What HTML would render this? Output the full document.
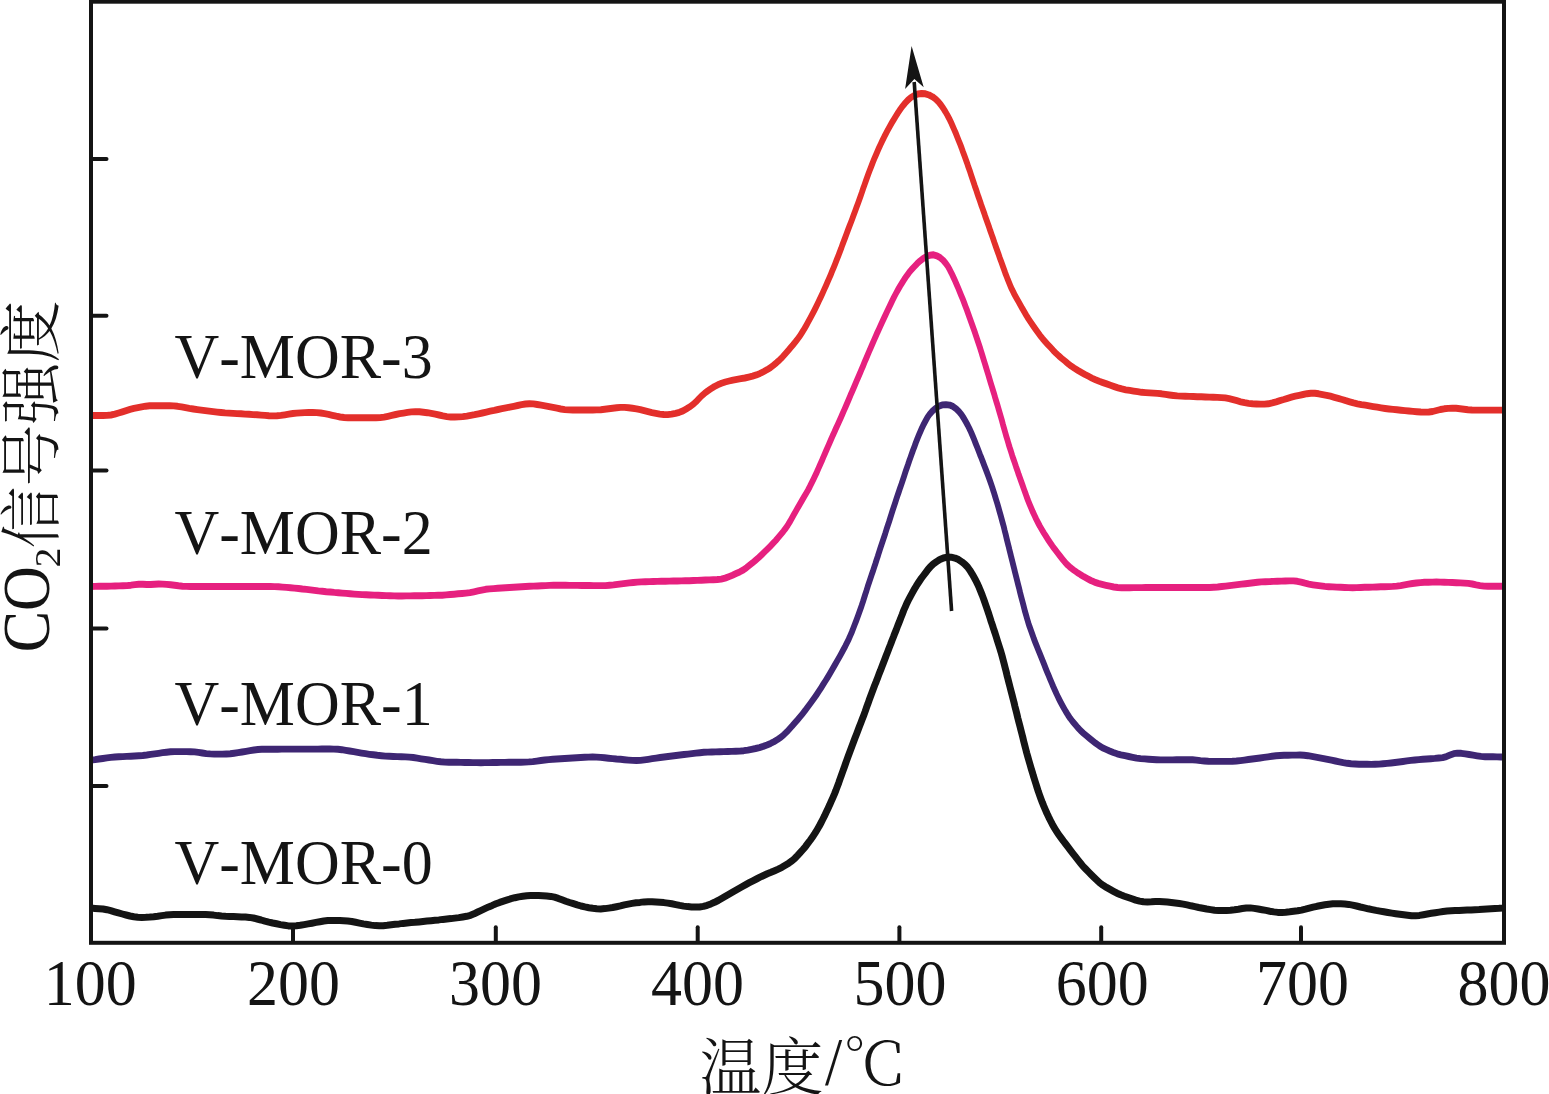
<!DOCTYPE html>
<html lang="zh"><head><meta charset="utf-8"><title>CO2-TPD</title>
<style>
html,body{margin:0;padding:0;background:#fff;}
body{width:1549px;height:1094px;overflow:hidden;position:relative;}
svg{position:absolute;left:0;top:0;display:block;}
text{font-kerning:none;font-family:"Liberation Serif","Noto Serif CJK SC",serif;fill:#141414;}
.cj{font-weight:300;font-family:"Noto Serif CJK SC","Liberation Serif",serif;}
</style></head><body>
<svg width="1549" height="1094" viewBox="0 0 1549 1094">
<rect width="1549" height="1094" fill="#fff"/>

<g fill="none" stroke-linejoin="round" stroke-linecap="butt">
<g transform="scale(0.84 1)" stroke-width="6.9">
<path d="M108.3 415.5L113.1 415.5L117.9 415.5L122.6 415.5L127.4 415.4L132.1 415.0L136.7 414.2L141.2 413.0L145.7 411.8L150.3 410.6L154.8 409.4L159.4 408.4L164.1 407.6L168.7 406.8L173.4 406.2L178.2 405.8L182.9 405.7L187.7 405.7L192.4 405.7L197.2 405.7L201.9 405.7L206.7 405.9L211.4 406.3L216.1 406.9L220.8 407.7L225.4 408.4L230.1 409.0L234.9 409.6L239.6 410.1L244.3 410.6L249.0 411.1L253.8 411.6L258.5 412.1L263.2 412.5L268.0 412.9L272.7 413.1L277.5 413.4L282.2 413.6L287.0 413.8L291.7 414.1L296.5 414.3L301.2 414.6L306.0 414.8L310.7 415.1L315.5 415.4L320.2 415.7L325.0 415.9L329.7 415.8L334.4 415.4L339.1 414.8L343.8 414.1L348.5 413.5L353.2 413.1L358.0 412.9L362.7 412.6L367.5 412.5L372.2 412.4L377.0 412.6L381.7 413.0L386.4 413.7L391.1 414.4L395.7 415.3L400.3 416.2L405.0 417.0L409.7 417.5L414.4 417.8L419.2 417.8L423.9 417.8L428.7 417.8L433.4 417.8L438.2 417.8L443.0 417.8L447.7 417.8L452.5 417.6L457.2 417.1L461.8 416.3L466.4 415.4L471.1 414.5L475.8 413.7L480.4 413.1L485.1 412.4L489.8 411.9L494.6 411.6L499.3 411.7L504.0 412.2L508.7 412.7L513.4 413.4L518.1 414.2L522.7 415.0L527.3 415.9L532.0 416.6L536.7 417.0L541.4 417.0L546.2 416.9L550.9 416.6L555.7 416.1L560.4 415.4L565.0 414.7L569.7 413.8L574.3 413.0L579.0 412.1L583.6 411.2L588.3 410.4L592.9 409.5L597.6 408.7L602.3 407.9L606.9 407.1L611.6 406.3L616.2 405.5L620.9 404.7L625.6 404.0L630.3 403.7L635.0 403.9L639.6 404.5L644.3 405.1L649.0 405.8L653.7 406.6L658.4 407.4L663.0 408.2L667.7 409.0L672.4 409.6L677.1 409.9L681.9 410.0L686.6 410.0L691.4 410.0L696.1 410.0L700.9 410.0L705.7 410.0L710.4 409.9L715.2 409.7L719.9 409.3L724.6 408.8L729.3 408.3L734.1 407.8L738.8 407.4L743.5 407.4L748.3 407.7L753.0 408.2L757.7 408.8L762.3 409.6L766.9 410.7L771.5 411.7L776.1 412.7L780.8 413.4L785.5 414.1L790.2 414.5L794.9 414.6L799.5 414.1L804.2 413.3L808.8 412.3L813.1 410.9L817.2 408.9L821.2 406.8L825.0 404.4L828.5 401.8L831.8 398.9L835.1 396.0L838.6 393.4L842.4 391.0L846.3 388.7L850.3 386.6L854.5 384.8L858.9 383.3L863.4 382.0L868.0 381.0L872.6 380.1L877.3 379.4L882.0 378.7L886.7 378.0L891.3 377.1L895.9 376.1L900.4 374.9L904.8 373.4L909.1 371.6L913.2 369.7L917.2 367.6L921.0 365.1L924.6 362.6L928.1 359.9L931.5 357.1L934.7 354.1L937.8 351.1L940.8 348.0L943.9 345.0L946.9 341.9L949.8 338.7L952.6 335.5L955.1 332.1L957.6 328.7L960.0 325.2L962.3 321.7L964.6 318.2L966.8 314.7L969.0 311.1L971.1 307.6L973.2 304.0L975.2 300.4L977.3 296.7L979.3 293.1L981.2 289.5L983.2 285.8L985.1 282.2L987.0 278.5L988.9 274.8L990.7 271.1L992.5 267.4L994.3 263.7L996.0 260.0L997.8 256.3L999.5 252.5L1001.2 248.8L1002.8 245.0L1004.5 241.3L1006.2 237.5L1007.8 233.8L1009.5 230.0L1011.2 226.3L1012.9 222.6L1014.6 218.8L1016.2 215.1L1017.9 211.3L1019.5 207.6L1021.2 203.8L1022.8 200.1L1024.4 196.3L1026.0 192.5L1027.5 188.7L1029.1 185.0L1030.7 181.2L1032.3 177.4L1033.9 173.7L1035.6 169.9L1037.3 166.2L1039.0 162.5L1040.8 158.8L1042.7 155.1L1044.6 151.4L1046.5 147.7L1048.5 144.1L1050.5 140.5L1052.6 136.9L1054.8 133.4L1057.0 129.8L1059.3 126.3L1061.7 122.8L1064.1 119.4L1066.6 116.0L1069.1 112.6L1071.8 109.3L1074.6 106.1L1077.6 103.0L1080.8 100.1L1084.4 97.5L1088.3 95.5L1092.6 94.0L1097.1 93.5L1101.7 93.8L1106.1 95.0L1110.2 96.8L1113.9 99.1L1117.2 101.9L1120.2 105.0L1122.9 108.2L1125.4 111.6L1127.8 115.1L1130.0 118.6L1132.1 122.2L1134.0 125.8L1135.9 129.5L1137.8 133.2L1139.6 136.9L1141.3 140.6L1143.1 144.3L1144.8 148.0L1146.4 151.8L1148.1 155.6L1149.7 159.3L1151.3 163.1L1152.8 166.9L1154.4 170.6L1155.9 174.4L1157.4 178.2L1158.9 182.0L1160.4 185.8L1162.0 189.6L1163.5 193.4L1165.0 197.2L1166.6 201.0L1168.1 204.8L1169.7 208.5L1171.3 212.3L1172.8 216.1L1174.4 219.9L1176.0 223.6L1177.6 227.4L1179.1 231.2L1180.7 235.0L1182.3 238.7L1183.8 242.5L1185.4 246.3L1187.0 250.1L1188.6 253.8L1190.1 257.6L1191.8 261.4L1193.4 265.1L1195.0 268.9L1196.6 272.7L1198.3 276.4L1200.0 280.1L1201.8 283.8L1203.6 287.5L1205.7 291.1L1207.8 294.6L1210.1 298.1L1212.5 301.6L1214.8 305.1L1217.1 308.6L1219.5 312.0L1221.9 315.5L1224.4 318.9L1227.0 322.2L1229.7 325.5L1232.4 328.8L1235.2 332.1L1238.0 335.3L1241.0 338.4L1244.1 341.4L1247.3 344.4L1250.5 347.3L1253.7 350.3L1257.0 353.1L1260.5 355.9L1264.1 358.5L1267.8 361.0L1271.4 363.6L1275.2 366.1L1279.1 368.3L1283.1 370.4L1287.2 372.4L1291.4 374.4L1295.6 376.2L1299.8 378.1L1304.2 379.8L1308.6 381.3L1313.0 382.6L1317.5 383.9L1322.0 385.3L1326.5 386.6L1331.0 387.8L1335.6 388.9L1340.2 389.8L1344.9 390.4L1349.6 391.1L1354.3 391.7L1359.0 392.3L1363.8 392.6L1368.5 392.9L1373.3 393.1L1378.0 393.4L1382.8 393.8L1387.5 394.4L1392.2 395.0L1396.9 395.5L1401.6 395.9L1406.4 396.1L1411.1 396.3L1415.9 396.4L1420.6 396.5L1425.4 396.7L1430.2 396.8L1434.9 397.0L1439.7 397.1L1444.4 397.2L1449.2 397.4L1454.0 397.6L1458.7 397.9L1463.3 398.6L1467.9 399.6L1472.5 400.7L1477.1 401.8L1481.7 402.7L1486.4 403.4L1491.1 403.8L1495.8 404.0L1500.6 404.1L1505.3 404.1L1510.0 403.8L1514.6 402.9L1519.2 401.8L1523.7 400.6L1528.3 399.5L1532.8 398.3L1537.4 397.2L1542.0 396.2L1546.7 395.3L1551.3 394.5L1555.9 393.7L1560.6 393.2L1565.3 393.3L1569.9 393.8L1574.6 394.6L1579.3 395.3L1583.9 396.2L1588.5 397.3L1593.1 398.4L1597.7 399.5L1602.2 400.7L1606.8 401.8L1611.4 402.9L1616.0 403.8L1620.7 404.6L1625.4 405.2L1630.1 405.9L1634.8 406.6L1639.5 407.2L1644.2 407.9L1648.9 408.5L1653.6 409.0L1658.3 409.4L1663.0 409.8L1667.8 410.2L1672.5 410.6L1677.3 411.0L1682.0 411.4L1686.7 411.7L1691.5 412.0L1696.2 412.1L1701.0 412.0L1705.6 411.5L1710.2 410.5L1714.7 409.5L1719.3 408.8L1724.0 408.4L1728.8 408.3L1733.5 408.3L1738.2 408.7L1742.9 409.2L1747.6 409.7L1752.4 410.0L1757.1 410.1L1761.9 410.1L1766.7 410.1L1771.4 410.1L1776.2 410.1L1781.0 410.1L1785.7 410.1L1790.5 410.1" stroke="#E32F2B"/>
<path d="M108.3 586.5L113.1 586.4L117.9 586.3L122.6 586.2L127.4 586.2L132.1 586.1L136.9 586.0L141.7 585.9L146.4 585.8L151.2 585.6L155.9 585.2L160.6 584.6L165.3 584.2L170.0 584.2L174.7 584.5L179.4 584.5L184.1 584.2L188.9 584.0L193.6 584.1L198.4 584.4L203.1 584.8L207.8 585.3L212.5 585.8L217.3 586.2L222.0 586.4L226.8 586.5L231.5 586.5L236.3 586.5L241.1 586.5L245.8 586.5L250.6 586.5L255.4 586.5L260.1 586.5L264.9 586.5L269.6 586.5L274.4 586.5L279.2 586.5L283.9 586.5L288.7 586.5L293.5 586.5L298.2 586.5L303.0 586.5L307.8 586.5L312.5 586.5L317.3 586.5L322.0 586.5L326.8 586.6L331.6 586.8L336.3 587.1L341.1 587.4L345.8 587.7L350.5 588.1L355.3 588.5L360.0 589.0L364.8 589.4L369.5 589.9L374.2 590.4L378.9 590.9L383.7 591.3L388.4 591.7L393.2 592.0L397.9 592.4L402.7 592.7L407.4 593.1L412.1 593.4L416.9 593.8L421.6 594.1L426.4 594.4L431.1 594.6L435.9 594.8L440.7 595.0L445.4 595.1L450.2 595.3L454.9 595.5L459.7 595.6L464.5 595.8L469.2 595.9L474.0 596.0L478.7 596.0L483.5 595.9L488.3 595.9L493.0 595.8L497.8 595.7L502.6 595.7L507.3 595.6L512.1 595.5L516.9 595.4L521.6 595.3L526.4 595.2L531.1 594.9L535.9 594.5L540.6 594.2L545.4 593.8L550.1 593.5L554.8 593.1L559.5 592.6L564.2 591.8L568.9 590.9L573.5 590.1L578.2 589.3L582.9 588.9L587.6 588.6L592.4 588.3L597.1 588.0L601.9 587.7L606.6 587.5L611.4 587.2L616.2 587.0L620.9 586.8L625.7 586.5L630.4 586.3L635.2 586.1L639.9 586.0L644.7 585.8L649.5 585.6L654.2 585.4L659.0 585.3L663.7 585.3L668.5 585.3L673.3 585.3L678.0 585.4L682.8 585.4L687.6 585.4L692.3 585.5L697.1 585.5L701.9 585.5L706.6 585.6L711.4 585.6L716.1 585.6L720.9 585.6L725.6 585.3L730.4 584.9L735.1 584.4L739.8 583.9L744.6 583.4L749.3 582.9L754.0 582.5L758.8 582.1L763.5 581.9L768.3 581.7L773.0 581.6L777.8 581.5L782.6 581.4L787.3 581.3L792.1 581.2L796.8 581.1L801.6 581.0L806.4 581.0L811.1 580.9L815.9 580.8L820.7 580.7L825.4 580.5L830.2 580.4L834.9 580.2L839.7 580.0L844.5 579.9L849.2 579.7L854.0 579.5L858.6 579.1L863.2 578.1L867.6 576.7L872.0 575.2L876.3 573.5L880.6 571.9L884.8 570.0L888.7 567.7L892.4 565.2L896.1 562.7L899.7 560.1L903.3 557.5L906.8 554.7L910.2 551.9L913.6 549.1L916.9 546.3L920.2 543.4L923.5 540.5L926.6 537.4L929.6 534.4L932.6 531.3L935.5 528.1L938.1 524.8L940.6 521.4L942.9 517.9L945.2 514.4L947.6 510.9L949.9 507.4L952.3 504.0L954.7 500.5L957.1 497.1L959.5 493.6L961.9 490.1L964.1 486.6L966.2 483.0L968.3 479.4L970.4 475.8L972.4 472.2L974.3 468.5L976.2 464.9L978.2 461.2L980.0 457.5L981.9 453.9L983.8 450.2L985.7 446.5L987.6 442.9L989.5 439.2L991.4 435.5L993.4 431.9L995.3 428.2L997.3 424.6L999.3 420.9L1001.2 417.3L1003.1 413.6L1005.0 410.0L1006.9 406.3L1008.8 402.6L1010.7 398.9L1012.5 395.2L1014.4 391.6L1016.3 387.9L1018.2 384.2L1020.0 380.5L1021.9 376.8L1023.8 373.2L1025.6 369.5L1027.5 365.8L1029.3 362.1L1031.2 358.4L1033.0 354.7L1034.9 351.0L1036.8 347.4L1038.7 343.7L1040.6 340.0L1042.5 336.4L1044.4 332.7L1046.4 329.1L1048.4 325.4L1050.3 321.8L1052.3 318.2L1054.4 314.5L1056.4 310.9L1058.5 307.3L1060.5 303.7L1062.6 300.1L1064.7 296.5L1066.9 293.0L1069.2 289.5L1071.6 286.0L1074.1 282.6L1076.6 279.2L1079.3 275.9L1082.1 272.7L1085.1 269.6L1088.3 266.7L1091.6 263.8L1095.1 261.1L1098.8 258.6L1102.8 256.6L1107.0 255.2L1111.3 254.8L1115.4 255.8L1119.3 257.7L1122.8 260.2L1125.8 263.2L1128.5 266.4L1130.8 269.9L1132.9 273.4L1134.9 277.0L1136.9 280.7L1138.8 284.3L1140.7 288.0L1142.5 291.7L1144.3 295.4L1146.1 299.1L1147.8 302.8L1149.5 306.6L1151.2 310.3L1152.8 314.1L1154.4 317.8L1156.0 321.6L1157.6 325.4L1159.2 329.1L1160.8 332.9L1162.3 336.7L1163.8 340.5L1165.3 344.3L1166.8 348.1L1168.2 351.9L1169.6 355.7L1171.0 359.6L1172.4 363.4L1173.8 367.2L1175.2 371.1L1176.6 374.9L1177.9 378.7L1179.3 382.6L1180.7 386.4L1182.1 390.2L1183.5 394.0L1184.8 397.9L1186.2 401.7L1187.6 405.5L1188.9 409.4L1190.2 413.2L1191.6 417.1L1192.9 420.9L1194.1 424.8L1195.4 428.6L1196.7 432.5L1198.0 436.3L1199.4 440.2L1200.7 444.0L1202.1 447.8L1203.6 451.6L1205.0 455.4L1206.5 459.2L1208.1 463.0L1209.6 466.8L1211.2 470.6L1212.7 474.4L1214.3 478.1L1215.9 481.9L1217.5 485.7L1219.1 489.5L1220.7 493.2L1222.3 497.0L1224.0 500.7L1225.8 504.4L1227.6 508.1L1229.5 511.8L1231.5 515.4L1233.5 519.0L1235.7 522.6L1237.9 526.1L1240.3 529.6L1242.7 533.0L1245.3 536.4L1247.9 539.8L1250.5 543.1L1253.2 546.4L1256.0 549.6L1258.9 552.8L1261.8 555.9L1264.8 559.1L1267.8 562.2L1271.0 565.1L1274.5 567.7L1278.3 570.1L1282.2 572.4L1286.2 574.6L1290.3 576.7L1294.4 578.6L1298.6 580.5L1302.9 582.1L1307.4 583.4L1312.0 584.4L1316.6 585.3L1321.3 586.2L1325.9 587.0L1330.6 587.5L1335.3 587.7L1340.1 587.7L1344.9 587.7L1349.6 587.6L1354.4 587.6L1359.2 587.6L1363.9 587.5L1368.7 587.5L1373.4 587.5L1378.2 587.5L1383.0 587.5L1387.7 587.5L1392.5 587.5L1397.3 587.5L1402.0 587.5L1406.8 587.5L1411.6 587.5L1416.3 587.5L1421.1 587.5L1425.8 587.5L1430.6 587.5L1435.4 587.5L1440.1 587.5L1444.9 587.3L1449.6 587.0L1454.4 586.5L1459.1 586.1L1463.8 585.6L1468.6 585.1L1473.3 584.6L1478.0 584.1L1482.7 583.7L1487.5 583.2L1492.2 582.7L1496.9 582.3L1501.7 581.9L1506.4 581.7L1511.2 581.6L1515.9 581.4L1520.7 581.3L1525.5 581.1L1530.2 581.0L1535.0 580.9L1539.7 580.9L1544.4 581.3L1549.0 582.1L1553.6 583.2L1558.2 584.1L1562.9 584.8L1567.6 585.4L1572.3 585.9L1577.1 586.4L1581.8 586.7L1586.6 586.9L1591.3 587.1L1596.1 587.3L1600.8 587.5L1605.6 587.6L1610.3 587.7L1615.1 587.6L1619.9 587.5L1624.6 587.3L1629.4 587.2L1634.2 587.1L1638.9 587.0L1643.7 586.8L1648.4 586.7L1653.2 586.6L1658.0 586.4L1662.7 586.1L1667.4 585.6L1672.1 584.9L1676.8 584.2L1681.5 583.5L1686.2 583.0L1690.9 582.6L1695.7 582.3L1700.4 582.2L1705.2 582.1L1710.0 582.0L1714.7 582.1L1719.5 582.2L1724.2 582.4L1729.0 582.5L1733.8 582.7L1738.5 582.9L1743.3 583.1L1748.0 583.4L1752.7 584.0L1757.3 584.9L1762.0 585.6L1766.7 586.1L1771.4 586.3L1776.2 586.3L1780.9 586.3L1785.7 586.3L1790.5 586.3" stroke="#E6207F"/>
<path d="M108.3 760.1L113.1 759.6L117.8 759.0L122.5 758.5L127.2 757.9L131.9 757.4L136.7 757.0L141.4 756.8L146.2 756.6L150.9 756.4L155.7 756.2L160.4 756.0L165.2 755.8L169.9 755.5L174.7 755.0L179.4 754.4L184.1 753.9L188.8 753.3L193.5 752.7L198.2 752.2L203.0 751.8L207.7 751.6L212.5 751.6L217.2 751.6L222.0 751.6L226.7 751.7L231.5 751.9L236.2 752.4L240.9 753.0L245.6 753.6L250.3 753.9L255.1 754.1L259.8 754.1L264.6 754.1L269.4 754.0L274.1 753.8L278.8 753.3L283.5 752.7L288.2 752.0L292.9 751.3L297.6 750.6L302.3 750.0L307.0 749.5L311.7 749.3L316.5 749.2L321.3 749.2L326.0 749.2L330.8 749.2L335.5 749.1L340.3 749.1L345.1 749.1L349.8 749.1L354.6 749.1L359.4 749.1L364.1 749.1L368.9 749.1L373.6 749.1L378.4 749.1L383.2 749.0L387.9 749.0L392.7 749.0L397.4 749.1L402.2 749.3L406.9 749.7L411.6 750.3L416.3 751.0L421.0 751.7L425.7 752.4L430.4 753.1L435.1 753.7L439.8 754.3L444.5 754.8L449.2 755.3L454.0 755.7L458.7 756.1L463.4 756.3L468.2 756.5L473.0 756.6L477.7 756.7L482.5 756.9L487.2 757.1L492.0 757.5L496.7 758.1L501.4 758.8L506.1 759.4L510.8 760.0L515.5 760.7L520.2 761.3L524.9 761.8L529.6 762.1L534.4 762.2L539.1 762.3L543.9 762.3L548.7 762.4L553.4 762.5L558.2 762.5L562.9 762.6L567.7 762.6L572.5 762.7L577.2 762.6L582.0 762.6L586.7 762.5L591.5 762.5L596.3 762.4L601.0 762.4L605.8 762.3L610.6 762.3L615.3 762.3L620.1 762.2L624.8 762.1L629.6 761.9L634.3 761.6L639.0 761.1L643.8 760.5L648.5 760.0L653.2 759.6L658.0 759.3L662.7 759.0L667.5 758.8L672.2 758.5L677.0 758.3L681.7 758.0L686.5 757.8L691.2 757.5L696.0 757.3L700.7 757.1L705.5 757.0L710.2 757.1L715.0 757.4L719.7 757.8L724.4 758.2L729.2 758.6L733.9 759.0L738.7 759.3L743.4 759.7L748.2 760.1L752.9 760.4L757.6 760.5L762.4 760.4L767.1 759.9L771.8 759.3L776.5 758.7L781.2 758.1L785.9 757.5L790.6 757.0L795.3 756.5L800.1 756.0L804.8 755.5L809.5 755.0L814.3 754.5L819.0 754.1L823.7 753.6L828.4 753.1L833.2 752.7L837.9 752.3L842.7 752.1L847.4 752.0L852.2 751.9L856.9 751.8L861.7 751.6L866.5 751.5L871.2 751.4L876.0 751.2L880.7 751.1L885.5 750.7L890.2 750.1L894.8 749.3L899.5 748.5L904.1 747.6L908.6 746.4L913.1 745.0L917.4 743.4L921.6 741.6L925.7 739.5L929.6 737.3L933.2 734.7L936.6 731.9L939.8 728.9L943.0 726.0L946.1 723.0L949.3 720.0L952.4 716.9L955.4 713.8L958.3 710.7L961.1 707.5L964.0 704.3L966.8 701.1L969.6 697.8L972.3 694.5L974.9 691.2L977.5 687.8L980.0 684.4L982.6 681.0L985.1 677.6L987.5 674.2L989.9 670.8L992.3 667.3L994.7 663.8L997.0 660.4L999.4 656.9L1001.7 653.4L1003.9 649.9L1006.2 646.3L1008.3 642.8L1010.4 639.2L1012.3 635.5L1014.2 631.8L1015.9 628.1L1017.6 624.4L1019.3 620.7L1021.0 616.9L1022.6 613.2L1024.2 609.4L1025.8 605.6L1027.3 601.8L1028.7 598.0L1030.1 594.2L1031.6 590.4L1033.0 586.6L1034.5 582.8L1036.0 579.0L1037.5 575.2L1039.1 571.4L1040.6 567.6L1042.1 563.8L1043.5 560.0L1045.0 556.2L1046.4 552.4L1047.9 548.6L1049.4 544.8L1050.9 541.0L1052.4 537.2L1053.9 533.4L1055.3 529.6L1056.8 525.8L1058.3 522.0L1059.7 518.2L1061.2 514.3L1062.6 510.5L1064.1 506.7L1065.6 502.9L1067.1 499.1L1068.6 495.3L1070.1 491.6L1071.6 487.8L1073.2 484.0L1074.7 480.2L1076.2 476.4L1077.7 472.6L1079.2 468.8L1080.8 465.0L1082.3 461.2L1083.9 457.5L1085.5 453.7L1087.1 449.9L1088.8 446.2L1090.4 442.4L1092.1 438.7L1093.9 435.0L1095.8 431.3L1097.7 427.7L1099.8 424.1L1102.0 420.6L1104.3 417.1L1107.0 413.9L1110.1 411.0L1113.6 408.4L1117.4 406.3L1121.6 404.9L1126.1 404.6L1130.6 405.1L1134.7 406.6L1138.4 408.9L1141.7 411.7L1144.6 414.7L1147.2 418.0L1149.6 421.5L1151.9 425.0L1154.0 428.5L1156.0 432.1L1157.9 435.8L1159.7 439.5L1161.4 443.2L1163.2 446.9L1164.9 450.7L1166.6 454.4L1168.4 458.1L1170.1 461.8L1171.8 465.6L1173.5 469.3L1175.2 473.0L1176.9 476.8L1178.5 480.6L1180.0 484.3L1181.5 488.1L1183.0 491.9L1184.4 495.7L1185.8 499.6L1187.2 503.4L1188.5 507.2L1189.8 511.1L1191.1 514.9L1192.4 518.8L1193.6 522.6L1194.9 526.5L1196.0 530.4L1197.2 534.3L1198.3 538.2L1199.4 542.0L1200.6 545.9L1201.7 549.8L1202.9 553.7L1204.0 557.6L1205.2 561.5L1206.3 565.3L1207.5 569.2L1208.6 573.1L1209.8 577.0L1211.0 580.9L1212.1 584.7L1213.3 588.6L1214.4 592.5L1215.6 596.4L1216.8 600.2L1218.0 604.1L1219.2 608.0L1220.4 611.9L1221.7 615.7L1223.0 619.5L1224.4 623.4L1225.9 627.2L1227.5 630.9L1229.1 634.7L1230.7 638.5L1232.4 642.2L1234.2 645.9L1235.9 649.6L1237.7 653.3L1239.5 657.0L1241.3 660.7L1243.1 664.5L1244.8 668.2L1246.6 671.9L1248.4 675.6L1250.2 679.3L1252.1 683.0L1253.9 686.6L1255.9 690.3L1257.8 693.9L1259.9 697.6L1262.0 701.1L1264.2 704.6L1266.5 708.1L1268.9 711.6L1271.4 715.0L1274.0 718.3L1276.9 721.5L1280.0 724.5L1283.1 727.6L1286.3 730.5L1289.8 733.2L1293.4 735.8L1297.1 738.4L1300.8 740.9L1304.5 743.3L1308.4 745.6L1312.4 747.7L1316.7 749.4L1321.0 751.0L1325.4 752.5L1329.9 753.8L1334.5 754.8L1339.2 755.7L1343.8 756.5L1348.5 757.3L1353.1 758.1L1357.9 758.6L1362.6 758.9L1367.3 759.2L1372.1 759.5L1376.8 759.7L1381.6 759.9L1386.4 759.9L1391.1 759.9L1395.9 759.9L1400.6 759.8L1405.4 759.8L1410.2 759.7L1414.9 759.7L1419.7 759.8L1424.4 760.1L1429.1 760.6L1433.9 761.0L1438.6 761.3L1443.3 761.4L1448.1 761.4L1452.9 761.4L1457.6 761.4L1462.4 761.4L1467.1 761.3L1471.9 761.0L1476.6 760.6L1481.3 760.1L1486.1 759.5L1490.8 759.0L1495.5 758.5L1500.2 758.0L1504.9 757.4L1509.7 756.8L1514.4 756.3L1519.1 755.8L1523.8 755.5L1528.6 755.3L1533.3 755.2L1538.1 755.1L1542.9 755.1L1547.6 755.0L1552.3 755.2L1557.1 755.7L1561.7 756.4L1566.4 757.1L1571.1 757.9L1575.8 758.6L1580.4 759.4L1585.1 760.2L1589.8 761.0L1594.5 761.8L1599.1 762.6L1603.8 763.3L1608.5 763.8L1613.2 764.0L1618.0 764.2L1622.8 764.2L1627.5 764.3L1632.3 764.4L1637.0 764.3L1641.8 764.1L1646.5 763.8L1651.3 763.4L1656.0 763.0L1660.7 762.5L1665.5 762.0L1670.2 761.5L1674.9 760.9L1679.6 760.4L1684.3 760.0L1689.1 759.6L1693.8 759.3L1698.6 759.0L1703.3 758.7L1708.1 758.4L1712.8 758.0L1717.5 757.6L1722.0 756.6L1726.3 755.1L1730.6 753.7L1735.0 753.1L1739.6 753.3L1744.3 753.9L1749.0 754.5L1753.7 755.2L1758.4 755.8L1763.1 756.4L1767.9 756.7L1772.6 756.8L1777.4 756.8L1782.1 756.9L1786.9 757.0L1790.5 757.0" stroke="#3E2673"/>
</g>
<path d="M91.0 908.1L95.0 908.4L99.0 908.7L103.0 909.0L106.9 909.7L110.7 910.6L114.6 911.8L118.4 912.9L122.3 914.0L126.1 915.0L130.0 916.0L133.9 916.8L137.8 917.3L141.8 917.4L145.8 917.3L149.8 917.1L153.7 916.7L157.7 916.2L161.7 915.6L165.6 915.1L169.6 914.7L173.6 914.6L177.6 914.6L181.6 914.6L185.6 914.6L189.6 914.6L193.6 914.6L197.6 914.6L201.6 914.6L205.6 914.6L209.6 914.8L213.6 915.1L217.5 915.6L221.5 916.0L225.5 916.3L229.5 916.5L233.5 916.6L237.5 916.7L241.5 916.9L245.5 917.0L249.4 917.4L253.3 918.0L257.2 919.0L261.1 920.0L264.9 921.1L268.8 922.1L272.7 923.0L276.6 923.8L280.5 924.6L284.5 925.3L288.4 925.9L292.3 926.1L296.3 925.8L300.2 925.3L304.2 924.6L308.1 923.9L312.0 923.2L316.0 922.4L319.9 921.7L323.8 921.0L327.8 920.6L331.8 920.4L335.8 920.4L339.8 920.5L343.7 920.7L347.7 921.0L351.7 921.5L355.6 922.3L359.5 923.1L363.4 923.9L367.4 924.5L371.3 925.1L375.3 925.6L379.3 925.8L383.2 925.7L387.2 925.3L391.2 924.8L395.2 924.3L399.1 923.9L403.1 923.4L407.1 923.0L411.1 922.6L415.0 922.3L419.0 921.9L423.0 921.5L427.0 921.1L431.0 920.7L435.0 920.3L438.9 919.9L442.9 919.4L446.9 919.0L450.9 918.6L454.8 918.1L458.8 917.6L462.7 917.0L466.7 916.3L470.5 915.3L474.1 913.8L477.7 912.0L481.3 910.3L484.9 908.6L488.6 906.9L492.3 905.4L496.0 903.8L499.7 902.4L503.5 901.1L507.3 899.9L511.1 898.7L514.9 897.7L518.8 896.9L522.8 896.3L526.8 895.8L530.7 895.5L534.7 895.4L538.7 895.5L542.7 895.7L546.7 896.0L550.7 896.4L554.5 897.2L558.3 898.4L562.0 899.8L565.8 901.2L569.6 902.5L573.4 903.7L577.2 904.9L581.0 906.0L584.9 906.9L588.9 907.7L592.8 908.3L596.7 908.8L600.7 908.9L604.7 908.6L608.6 908.1L612.6 907.5L616.5 906.7L620.4 905.9L624.3 904.9L628.2 904.1L632.1 903.4L636.1 902.8L640.0 902.4L644.0 901.9L648.0 901.7L652.0 901.7L656.0 902.0L660.0 902.3L663.9 902.6L667.9 903.1L671.8 903.8L675.8 904.6L679.7 905.4L683.6 906.1L687.6 906.6L691.5 906.9L695.5 907.0L699.5 907.0L703.4 906.4L707.2 905.3L710.9 903.9L714.5 902.3L718.1 900.5L721.6 898.5L725.0 896.5L728.5 894.5L731.9 892.5L735.4 890.5L738.9 888.5L742.4 886.5L745.8 884.6L749.3 882.7L752.9 880.8L756.5 879.0L760.0 877.2L763.6 875.5L767.3 873.8L771.0 872.3L774.7 870.7L778.3 869.1L781.9 867.3L785.3 865.3L788.7 863.2L791.9 860.9L794.9 858.3L797.7 855.4L800.4 852.4L803.0 849.5L805.6 846.4L808.0 843.2L810.4 840.0L812.7 836.7L814.9 833.4L817.0 830.0L819.0 826.6L820.9 823.0L822.7 819.5L824.5 815.9L826.2 812.3L827.9 808.7L829.6 805.1L831.2 801.4L832.8 797.8L834.4 794.1L835.9 790.4L837.3 786.6L838.7 782.9L840.0 779.1L841.4 775.3L842.7 771.6L844.1 767.8L845.4 764.0L846.7 760.3L848.1 756.5L849.5 752.7L850.9 749.0L852.3 745.3L853.7 741.5L855.1 737.8L856.6 734.0L858.0 730.3L859.4 726.6L860.9 722.8L862.3 719.1L863.7 715.4L865.1 711.6L866.4 707.8L867.8 704.1L869.1 700.3L870.5 696.5L871.9 692.8L873.3 689.1L874.7 685.3L876.2 681.6L877.6 677.9L879.0 674.1L880.5 670.4L881.9 666.7L883.4 662.9L884.8 659.2L886.2 655.5L887.7 651.7L889.1 648.0L890.6 644.3L892.0 640.5L893.5 636.8L894.9 633.1L896.4 629.4L897.8 625.6L899.3 621.9L900.7 618.2L902.2 614.5L903.6 610.7L905.2 607.1L906.8 603.4L908.6 599.8L910.4 596.3L912.3 592.8L914.3 589.3L916.3 585.9L918.5 582.5L920.7 579.2L923.1 576.0L925.5 572.8L927.9 569.6L930.5 566.6L933.4 563.9L936.6 561.6L939.9 559.5L943.5 558.0L947.3 557.1L951.1 557.2L954.9 558.1L958.5 559.6L961.8 561.8L964.8 564.2L967.5 567.0L969.8 570.2L971.9 573.6L973.9 577.1L975.8 580.5L977.6 584.1L979.2 587.7L980.7 591.4L982.2 595.1L983.6 598.9L984.9 602.7L986.2 606.4L987.5 610.2L988.8 614.0L990.0 617.8L991.2 621.6L992.5 625.4L993.7 629.2L995.0 633.0L996.2 636.8L997.4 640.7L998.6 644.5L999.8 648.3L1001.0 652.1L1002.1 656.0L1003.1 659.8L1004.1 663.7L1005.1 667.6L1006.1 671.4L1007.0 675.3L1008.0 679.2L1009.0 683.1L1010.0 687.0L1011.0 690.8L1012.0 694.7L1013.0 698.6L1014.0 702.4L1014.9 706.3L1015.9 710.2L1016.9 714.1L1017.8 718.0L1018.8 721.9L1019.8 725.7L1020.8 729.6L1021.8 733.5L1022.8 737.4L1023.7 741.2L1024.7 745.1L1025.7 749.0L1026.7 752.9L1027.8 756.7L1028.9 760.6L1030.0 764.4L1031.1 768.2L1032.3 772.1L1033.4 775.9L1034.6 779.7L1035.8 783.5L1037.0 787.4L1038.2 791.2L1039.5 794.9L1040.9 798.7L1042.3 802.4L1043.8 806.1L1045.4 809.8L1047.0 813.5L1048.7 817.1L1050.5 820.7L1052.3 824.2L1054.3 827.7L1056.3 831.1L1058.6 834.4L1060.9 837.6L1063.3 840.9L1065.7 844.0L1068.1 847.2L1070.5 850.4L1073.0 853.6L1075.4 856.7L1077.9 859.9L1080.4 863.0L1082.9 866.1L1085.7 869.0L1088.5 871.9L1091.3 874.7L1094.1 877.5L1097.0 880.3L1099.9 883.0L1103.1 885.3L1106.5 887.4L1110.0 889.4L1113.5 891.3L1117.0 893.2L1120.6 894.8L1124.4 896.2L1128.2 897.5L1131.9 898.8L1135.7 900.1L1139.6 901.1L1143.4 901.8L1147.4 901.9L1151.4 901.8L1155.4 901.6L1159.4 901.6L1163.4 901.8L1167.3 902.1L1171.3 902.5L1175.3 903.0L1179.3 903.5L1183.2 904.1L1187.1 904.9L1191.0 905.8L1194.9 906.6L1198.8 907.5L1202.8 908.3L1206.7 909.0L1210.6 909.6L1214.6 910.2L1218.6 910.5L1222.5 910.6L1226.5 910.5L1230.5 910.3L1234.5 909.8L1238.4 909.2L1242.3 908.5L1246.3 908.0L1250.2 907.9L1254.2 908.4L1258.1 909.0L1262.0 909.7L1266.0 910.4L1269.9 911.2L1273.8 911.9L1277.8 912.4L1281.7 912.5L1285.7 912.2L1289.7 911.8L1293.6 911.3L1297.6 910.8L1301.5 910.1L1305.4 909.2L1309.3 908.2L1313.1 907.2L1317.0 906.3L1321.0 905.5L1324.9 904.8L1328.8 904.2L1332.8 903.8L1336.8 903.7L1340.8 903.8L1344.8 904.0L1348.7 904.4L1352.6 905.1L1356.5 906.0L1360.4 907.0L1364.3 907.9L1368.2 908.8L1372.1 909.6L1376.0 910.4L1380.0 911.1L1383.9 911.8L1387.9 912.5L1391.8 913.1L1395.8 913.7L1399.7 914.2L1403.7 914.8L1407.6 915.3L1411.6 915.8L1415.5 915.8L1419.5 915.4L1423.4 914.7L1427.3 914.0L1431.3 913.3L1435.2 912.7L1439.2 912.1L1443.1 911.5L1447.1 911.0L1451.1 910.7L1455.1 910.5L1459.1 910.4L1463.1 910.2L1467.1 910.1L1471.1 910.0L1475.1 909.8L1479.1 909.6L1483.1 909.3L1487.0 909.0L1491.0 908.7L1495.0 908.4L1499.0 908.2L1503.0 907.9L1504.0 907.8" stroke="#141414" stroke-width="7.0"/>
</g>
<line x1="951.6" y1="611" x2="914.2" y2="82" stroke="#141414" stroke-width="3.6"/>
<path d="M911.6 46L923.7 87.3L914.4 79L905.1 88.9Z" fill="#141414"/>
<g stroke="#141414" stroke-width="4.0" fill="none" stroke-linecap="round">
<rect x="91" y="1.7" width="1413" height="941.0999999999999" stroke-linejoin="miter"/>
<line x1="92" y1="158.9" x2="106.5" y2="158.9"/>
<line x1="92" y1="315.8" x2="106.5" y2="315.8"/>
<line x1="92" y1="470.6" x2="106.5" y2="470.6"/>
<line x1="92" y1="628.4" x2="106.5" y2="628.4"/>
<line x1="92" y1="785.9" x2="106.5" y2="785.9"/>
<line x1="293" y1="941.8" x2="293" y2="927.3"/>
<line x1="495.8" y1="941.8" x2="495.8" y2="927.3"/>
<line x1="697.7" y1="941.8" x2="697.7" y2="927.3"/>
<line x1="899.4" y1="941.8" x2="899.4" y2="927.3"/>
<line x1="1101.2" y1="941.8" x2="1101.2" y2="927.3"/>
<line x1="1301" y1="941.8" x2="1301" y2="927.3"/>
</g>
<g font-size="62">
<text transform="translate(174.4 377.6) scale(1 1.035)">V-MOR-3</text>
<text transform="translate(174.4 553.9) scale(1 1.035)">V-MOR-2</text>
<text transform="translate(174.4 725.0) scale(1 1.035)">V-MOR-1</text>
<text transform="translate(174.4 883.8) scale(1 1.035)">V-MOR-0</text>
<text transform="translate(90.2 1005.2) scale(1 1.055)" text-anchor="middle">100</text>
<text transform="translate(293.5 1005.2) scale(1 1.055)" text-anchor="middle">200</text>
<text transform="translate(495.5 1005.2) scale(1 1.055)" text-anchor="middle">300</text>
<text transform="translate(697.5 1005.2) scale(1 1.055)" text-anchor="middle">400</text>
<text transform="translate(900 1005.2) scale(1 1.055)" text-anchor="middle">500</text>
<text transform="translate(1102.2 1005.2) scale(1 1.055)" text-anchor="middle">600</text>
<text transform="translate(1302.4 1005.2) scale(1 1.055)" text-anchor="middle">700</text>
<text transform="translate(1504 1005.2) scale(1 1.055)" text-anchor="middle">800</text>
</g>
<text class="cj" x="699.6" y="1090" font-size="62">温度</text>
<text transform="translate(825.1 1084.2) scale(1 1.085)" font-size="62">/</text>
<text class="cj" x="844.9" y="1078.2" font-size="57">°</text>
<text class="cj" x="862" y="1085.4" font-size="60">C</text>
<text transform="translate(49.2 652.3) rotate(-90) scale(1 1.08)" font-size="62">CO</text>
<text transform="translate(59.8 567.6) rotate(-90) scale(1 0.9)" font-size="40">2</text>
<text class="cj" transform="translate(54 548.6) rotate(-90)" font-size="62">信号强度</text>
</svg></body></html>
